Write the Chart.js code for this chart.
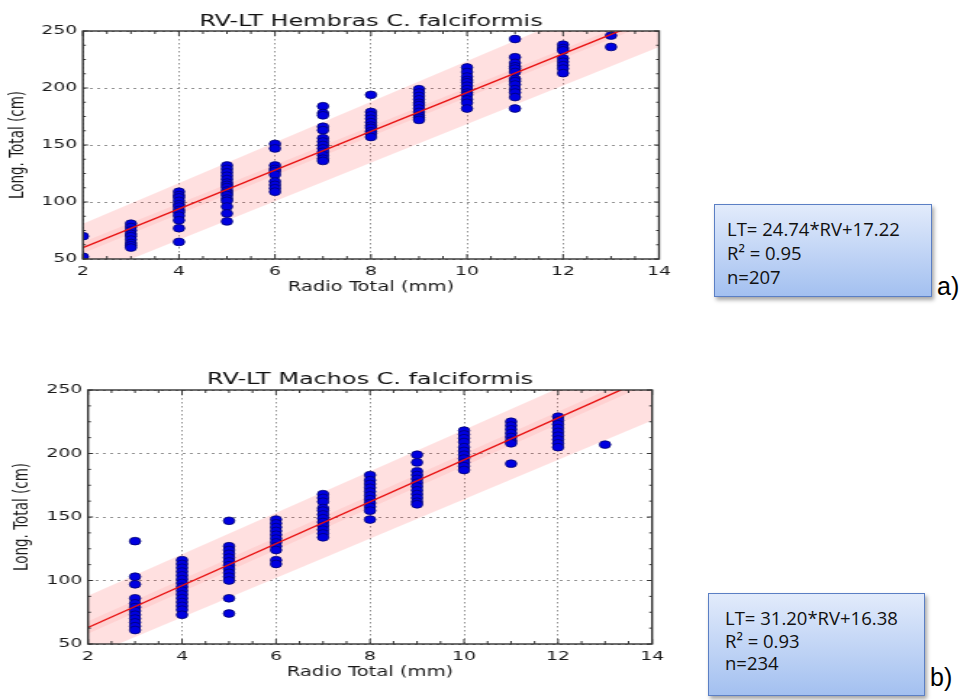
<!DOCTYPE html>
<html>
<head>
<meta charset="utf-8">
<script src="https://cdn.jsdelivr.net/npm/chart.js@4.4.1/dist/chart.umd.min.js"></script>
<style>
  body { margin:0; background:#fff; width:969px; height:700px; position:relative; overflow:hidden; font-family:"DejaVu Sans",sans-serif; }
  .wrap { position:absolute; left:0; width:469px; transform-origin:0 0; transform:scaleX(1.45); }
  #wrapA { top:0; height:300px; }
  #wrapB { top:360px; height:325px; }
  .eq { position:absolute; box-sizing:border-box; border:1px solid #5b7fc4;
        background:linear-gradient(#e2ebfb,#a3c0f0); box-shadow:2px 3px 4px rgba(0,0,0,.35);
        font-family:"Open Sans",sans-serif; font-size:18.5px; color:#111; white-space:nowrap; }
  #eqA { left:714px; top:204px; width:218px; height:93px; padding:12px 0 0 12px; line-height:24px; }
  #eqB { left:708px; top:593px; width:217px; height:103px; padding:13px 0 0 16px; line-height:22.5px; }
  .tag { position:absolute; font-family:"Liberation Sans",Arial,sans-serif; font-size:25px; line-height:25px; color:#000; }
</style>
</head>
<body>
<div class="wrap" id="wrapA"><canvas id="chartA"></canvas></div>
<div class="wrap" id="wrapB"><canvas id="chartB"></canvas></div>

<div class="eq" id="eqA">LT= 24.74*RV+17.22<br>R² = 0.95<br>n=207</div>
<div class="tag" style="left:937px;top:274px">a)</div>
<div class="eq" id="eqB">LT= 31.20*RV+16.38<br>R² = 0.93<br>n=234</div>
<div class="tag" style="left:930px;top:665px">b)</div>

<script>
// ejes
const xTicks = [2, 4, 6, 8, 10, 12, 14];
const yTicks = [50, 100, 150, 200, 250];

// a) hembras
const hembrasRV = [2, 3, 4, 5, 6, 7, 8, 9, 10, 11, 12, 13];
const hembrasLT = [
  [70, 52],
  [81, 78, 75, 72, 70, 67, 64, 62, 60],
  [109, 106, 104, 101, 98, 96, 93, 91, 88, 84, 77, 65],
  [132, 129, 126, 123, 120, 117, 115, 113, 110, 108, 106, 103, 101, 96, 90, 83],
  [151, 147, 132, 129, 127, 124, 118, 115, 112, 109],
  [184, 178, 176, 166, 163, 156, 153, 150, 147, 144, 141, 138, 136],
  [194, 179, 176, 173, 170, 167, 165, 162, 160, 157],
  [199, 196, 193, 190, 187, 185, 182, 179, 176, 174, 172],
  [218, 214, 210, 207, 205, 202, 199, 196, 194, 190, 187, 182],
  [243, 227, 222, 219, 217, 214, 208, 206, 203, 199, 196, 192, 182],
  [238, 235, 233, 226, 223, 220, 217, 213],
  [246, 236]
];
const fitRV = [2, 14];
const hembrasFit   = [60, 264];
const hembrasUpper = [81, 295];
const hembrasLower = [33, 236];
const hembrasCiUp  = [65, 268];
const hembrasCiLo  = [55, 260];

// b) machos
const machosRV = [3, 4, 5, 6, 7, 8, 9, 10, 11, 12, 13];
const machosLT = [
  [131, 103, 97, 86, 82, 79, 76, 73, 70, 67, 64, 61],
  [116, 113, 110, 107, 104, 101, 98, 95, 92, 89, 86, 83, 80, 77, 73],
  [147, 127, 124, 121, 118, 115, 112, 109, 106, 103, 100, 86, 74],
  [148, 145, 142, 139, 136, 133, 130, 127, 124, 116, 113],
  [168, 165, 162, 157, 155, 152, 149, 146, 143, 140, 137, 134],
  [183, 179, 176, 173, 170, 167, 164, 161, 158, 155, 148],
  [199, 193, 186, 183, 180, 177, 174, 171, 168, 165, 162, 160],
  [218, 215, 212, 209, 205, 202, 199, 196, 193, 190, 187],
  [225, 222, 219, 216, 213, 210, 208, 192],
  [229, 226, 223, 220, 217, 214, 211, 208, 205],
  [207]
];
const machosFit   = [63, 261];
const machosUpper = [88, 284];
const machosLower = [40, 226];
const machosCiUp  = [68, 266];
const machosCiLo  = [58, 256];

const FONT = '"DejaVu Sans", sans-serif';
const pts = (xs, ys) => xs.map((x, i) => ({ x, y: ys[i] }));
const cloud = (rv, lt) => rv.flatMap((x, i) => lt[i].map(y => ({ x, y })));

// marco, ticks internos (estilo matplotlib) y titulo
const frameTicks = {
  id: 'frameTicks',
  afterDraw(chart, args, o) {
    const { ctx, chartArea: a, scales: { x, y } } = chart;
    ctx.save();
    ctx.strokeStyle = '#333'; ctx.lineWidth = 1;
    ctx.beginPath();
    for (let v = x.min; v <= x.max + 1e-9; v += 0.5) {
      const px = x.getPixelForValue(v), l = xTicks.includes(v) ? 5 : 3;
      ctx.moveTo(px, a.bottom); ctx.lineTo(px, a.bottom - l);
      ctx.moveTo(px, a.top); ctx.lineTo(px, a.top + l);
    }
    for (let v = y.min; v <= y.max + 1e-9; v += 12.5) {
      const py = y.getPixelForValue(v), l = yTicks.includes(v) ? 3.5 : 2;
      ctx.moveTo(a.left, py); ctx.lineTo(a.left + l, py);
      ctx.moveTo(a.right, py); ctx.lineTo(a.right - l, py);
    }
    ctx.stroke();
    ctx.lineWidth = 1.4;
    ctx.strokeRect(a.left, a.top, a.right - a.left, a.bottom - a.top);
    ctx.fillStyle = '#111';
    ctx.font = '16.5px ' + FONT;
    ctx.textAlign = 'center'; ctx.textBaseline = 'alphabetic';
    ctx.fillText(o.text, (a.left + a.right) / 2, a.top - o.gap);
    ctx.restore();
  }
};

function makeChart(id, d) {
  new Chart(document.getElementById(id), {
    type: 'line',
    data: {
      datasets: [
        { data: pts(fitRV, d.upper), fill: '+1', backgroundColor: 'rgba(255,0,0,0.12)', borderWidth: 0, pointRadius: 0, order: 3 },
        { data: pts(fitRV, d.lower), fill: false, borderWidth: 0, pointRadius: 0, order: 3 },
        { data: pts(fitRV, d.ciUp), fill: '+1', backgroundColor: 'rgba(255,0,0,0.07)', borderWidth: 0, pointRadius: 0, order: 2 },
        { data: pts(fitRV, d.ciLo), fill: false, borderWidth: 0, pointRadius: 0, order: 2 },
        { data: pts(fitRV, d.fit), borderColor: '#e81010', borderWidth: 1.4, pointRadius: 0, fill: false, order: 0 },
        { data: cloud(d.rv, d.lt), showLine: false, pointRadius: 3.9, backgroundColor: '#0000e0',
          borderColor: '#000060', borderWidth: 0.7, order: 1 }
      ]
    },
    options: {
      responsive: true, maintainAspectRatio: false, animation: false, events: [],
      layout: { padding: { left: 0, top: d.top, right: d.right, bottom: 0 } },
      plugins: { legend: { display: false }, tooltip: { enabled: false }, frameTicks: { text: d.title, gap: d.gap } },
      scales: {
        x: {
          type: 'linear', min: 2, max: 14,
          afterBuildTicks: s => { s.ticks = xTicks.map(v => ({ value: v })); },
          afterFit: s => { s.height = d.xh; },
          ticks: { font: { family: FONT, size: 13 }, color: '#1a1a1a', padding: 5, autoSkip: false, maxRotation: 0 },
          grid: { color: '#777', lineWidth: 0.8, drawTicks: false },
          border: { display: false, dash: [1.5, 2.5] },
          title: { display: true, text: 'Radio Total (mm)', color: '#1a1a1a', font: { family: FONT, size: 13.5 }, padding: { top: 0, bottom: 4 } }
        },
        y: {
          type: 'linear', min: 50, max: 250,
          afterBuildTicks: s => { s.ticks = yTicks.map(v => ({ value: v })); },
          afterFit: s => { s.width = d.yw; },
          ticks: { font: { family: FONT, size: 13 }, color: '#1a1a1a', padding: 4, autoSkip: false },
          grid: { color: '#777', lineWidth: 0.8, drawTicks: false },
          border: { display: false, dash: [2, 3] },
          title: { display: true, text: 'Long. Total (cm)', color: '#1a1a1a', font: { family: FONT, size: 13.5 }, padding: { top: d.yt, bottom: 0 } }
        }
      }
    },
    plugins: [frameTicks]
  });
}

makeChart('chartA', {
  title: 'RV-LT Hembras C. falciformis', gap: 5,
  rv: hembrasRV, lt: hembrasLT, fit: hembrasFit, upper: hembrasUpper, lower: hembrasLower, ciUp: hembrasCiUp, ciLo: hembrasCiLo,
  top: 31, right: 14.5, yw: 57.2, xh: 41, yt: 4
});
makeChart('chartB', {
  title: 'RV-LT Machos C. falciformis', gap: 6,
  rv: machosRV, lt: machosLT, fit: machosFit, upper: machosUpper, lower: machosLower, ciUp: machosCiUp, ciLo: machosCiLo,
  top: 30, right: 19.3, yw: 60.7, xh: 41, yt: 7
});
</script>
</body>
</html>
